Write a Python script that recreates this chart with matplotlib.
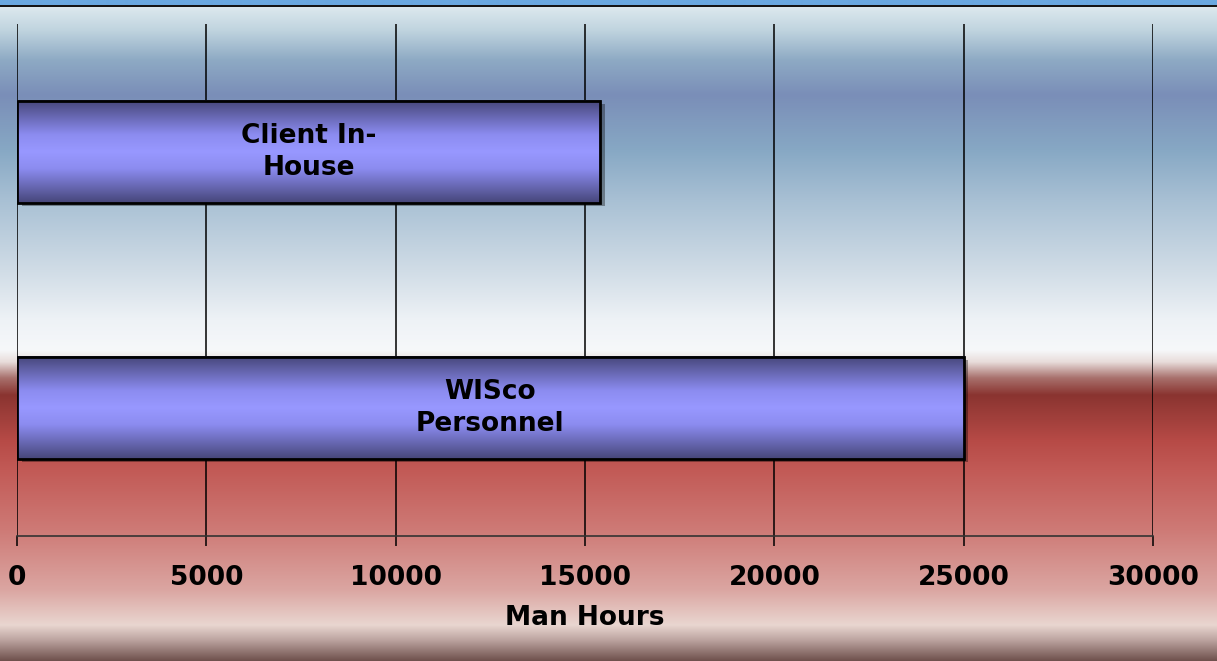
import numpy as np
import matplotlib
matplotlib.use("Agg")
import matplotlib.pyplot as plt
from matplotlib.colors import to_rgb

# Data
categories = ["WISco Personnel", "Client In-House"]
bar_labels = ["WISco\nPersonnel", "Client In-\nHouse"]
man_hours = [25000, 15400]
x_ticks = [0, 5000, 10000, 15000, 20000, 25000, 30000]

W, H = 1217, 661
fig = plt.figure(figsize=(W / 100, H / 100), dpi=100)

# Background gradient (pixel rows from top)
bg_stops = [
    (0, "#6AA8E0"), (4.5, "#6AA8E0"), (4.6, "#151515"), (6.5, "#151515"),
    (6.6, "#DDE9EE"), (30, "#C0D4DF"), (60, "#8EAAC4"), (95, "#7A8EB8"),
    (150, "#87A8C4"), (200, "#A8C0D4"), (270, "#D0DCE6"), (320, "#EEF2F6"),
    (350, "#F6F8FA"), (362, "#E8DCDA"), (378, "#A8706C"), (395, "#8A3430"),
    (440, "#B64A46"), (470, "#C25A56"), (530, "#CE7A76"), (590, "#DBA6A2"),
    (625, "#E9D6D0"), (640, "#BCA4A0"), (661, "#6E504C"),
]
ys = np.array([s[0] for s in bg_stops])
cols = np.array([to_rgb(s[1]) for s in bg_stops])
rows = np.arange(H) + 0.5
grad = np.stack([np.interp(rows, ys, cols[:, k]) for k in range(3)], axis=1)
bg = np.repeat(grad[:, None, :], 2, axis=1)

bg_ax = fig.add_axes([0, 0, 1, 1])
bg_ax.imshow(bg, aspect="auto", extent=[0, 1, 0, 1], interpolation="bilinear")
bg_ax.set_axis_off()

ax = fig.add_axes([17 / W, 125 / H, (1153 - 17) / W, (637 - 125) / H])
ax.set_facecolor("none")

ypos = np.arange(len(categories))
bars = ax.barh(ypos, man_hours, height=0.4, facecolor="none",
               edgecolor="black", linewidth=2, zorder=4)

# vertical gradient inside bars
bar_grad = np.array([to_rgb(c) for c in
                     ["#46467A", "#6A6AB6", "#8C8CF0", "#9898FF",
                      "#8C8CF0", "#6A6AB6", "#46467A"]])
t = np.linspace(0, 1, 100)
tt = np.linspace(0, 1, len(bar_grad))
bg_bar = np.stack([np.interp(t, tt, bar_grad[:, k]) for k in range(3)], axis=1)
bg_bar = np.repeat(bg_bar[:, None, :], 2, axis=1)
for b in bars:
    x0, y0, w, h = b.get_x(), b.get_y(), b.get_width(), b.get_height()
    ax.imshow(bg_bar, aspect="auto", extent=[x0, x0 + w, y0, y0 + h],
              interpolation="bilinear", zorder=3)
    # shadow
    ax.add_patch(plt.Rectangle((x0 + 120, y0 - 0.012), w, h, facecolor="black",
                               alpha=0.35, zorder=2, linewidth=0))

for b, lab in zip(bars, bar_labels):
    ax.text(b.get_x() + b.get_width() / 2, b.get_y() + b.get_height() / 2, lab,
            ha="center", va="center", fontsize=19, fontweight="bold",
            linespacing=1.3, zorder=5)

ax.set_xlim(0, 30000)
ax.set_ylim(-0.5, 1.5)
ax.set_xticks(x_ticks)
ax.set_xticklabels([str(v) for v in x_ticks], fontsize=19, fontweight="bold")
ax.set_yticks([])
ax.grid(axis="x", color="black", linewidth=1.1, zorder=1)
ax.set_axisbelow(True)
for s in ["top", "left", "right"]:
    ax.spines[s].set_visible(False)
ax.spines["bottom"].set_color("#333333")
ax.spines["bottom"].set_linewidth(1.2)
ax.tick_params(axis="x", direction="out", length=7, width=1.1, pad=14)
ax.set_xlabel("Man Hours", fontsize=19, fontweight="bold", labelpad=10)

fig.savefig("out.png", dpi=100)
